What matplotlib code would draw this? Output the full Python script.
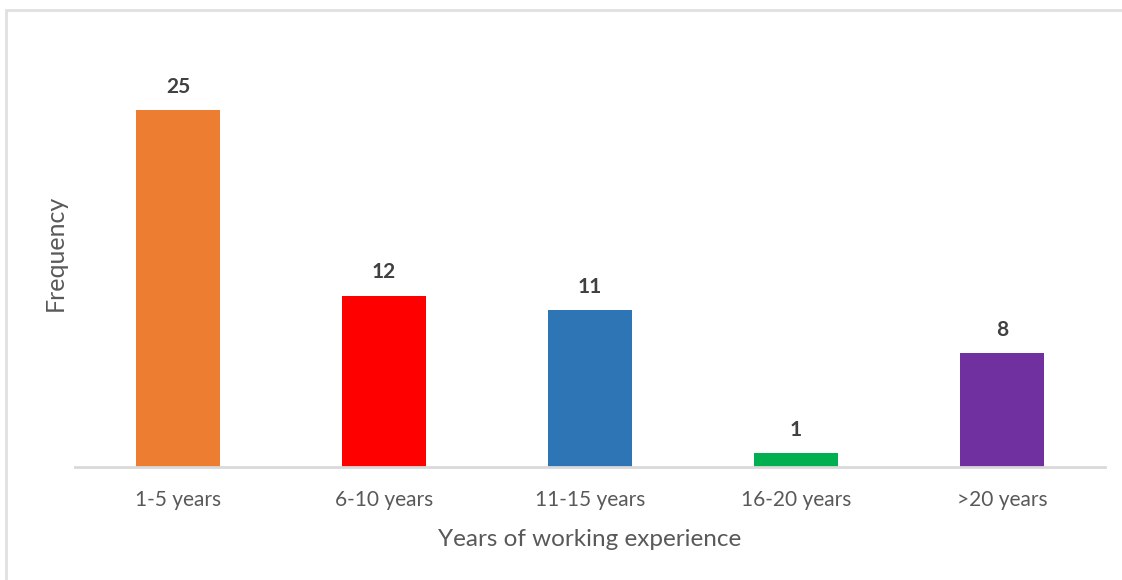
import matplotlib.pyplot as plt
from matplotlib.patches import Rectangle

categories = ["1-5 years", "6-10 years", "11-15 years", "16-20 years", ">20 years"]
frequency = [25, 12, 11, 1, 8]
bar_colors = ["#ED7D31", "#FF0000", "#2E75B6", "#00B050", "#7030A0"]

plt.rcParams["font.family"] = ["Lato", "DejaVu Sans"]

fig = plt.figure(figsize=(11.22, 5.8), dpi=100)
ax = fig.add_axes([0.0668, 0.194, 0.918, 0.739])

x = range(len(categories))
bars = ax.bar(x, frequency, width=0.41, color=bar_colors, zorder=2)

for rect, val in zip(bars, frequency):
    ax.text(rect.get_x() + rect.get_width() / 2, val + 0.95, str(val),
            ha="center", va="bottom", fontsize=15, fontweight="bold",
            color="#404040")

ax.set_xlim(-0.5, 4.5)
ax.set_ylim(0, 30)
ax.set_xticks(list(x))
ax.set_xticklabels(categories, fontsize=15, color="#595959")
ax.tick_params(axis="x", length=0, pad=16)
ax.set_yticks([])

for side in ("top", "right", "left"):
    ax.spines[side].set_visible(False)
ax.spines["bottom"].set_color("#D9D9D9")
ax.spines["bottom"].set_linewidth(2)

ax.set_xlabel("Years of working experience", fontsize=17.5, color="#595959", labelpad=14)
ax.set_ylabel("Frequency", fontsize=18, color="#595959", labelpad=6)

# light frame around the chart area
fig.patches.append(Rectangle((6 / 1122, -0.1), 1.2, (570 / 580) + 0.1,
                             transform=fig.transFigure, fill=False,
                             edgecolor="#E0E0E0", linewidth=2))

fig.savefig("out.png", dpi=100, facecolor="white")
